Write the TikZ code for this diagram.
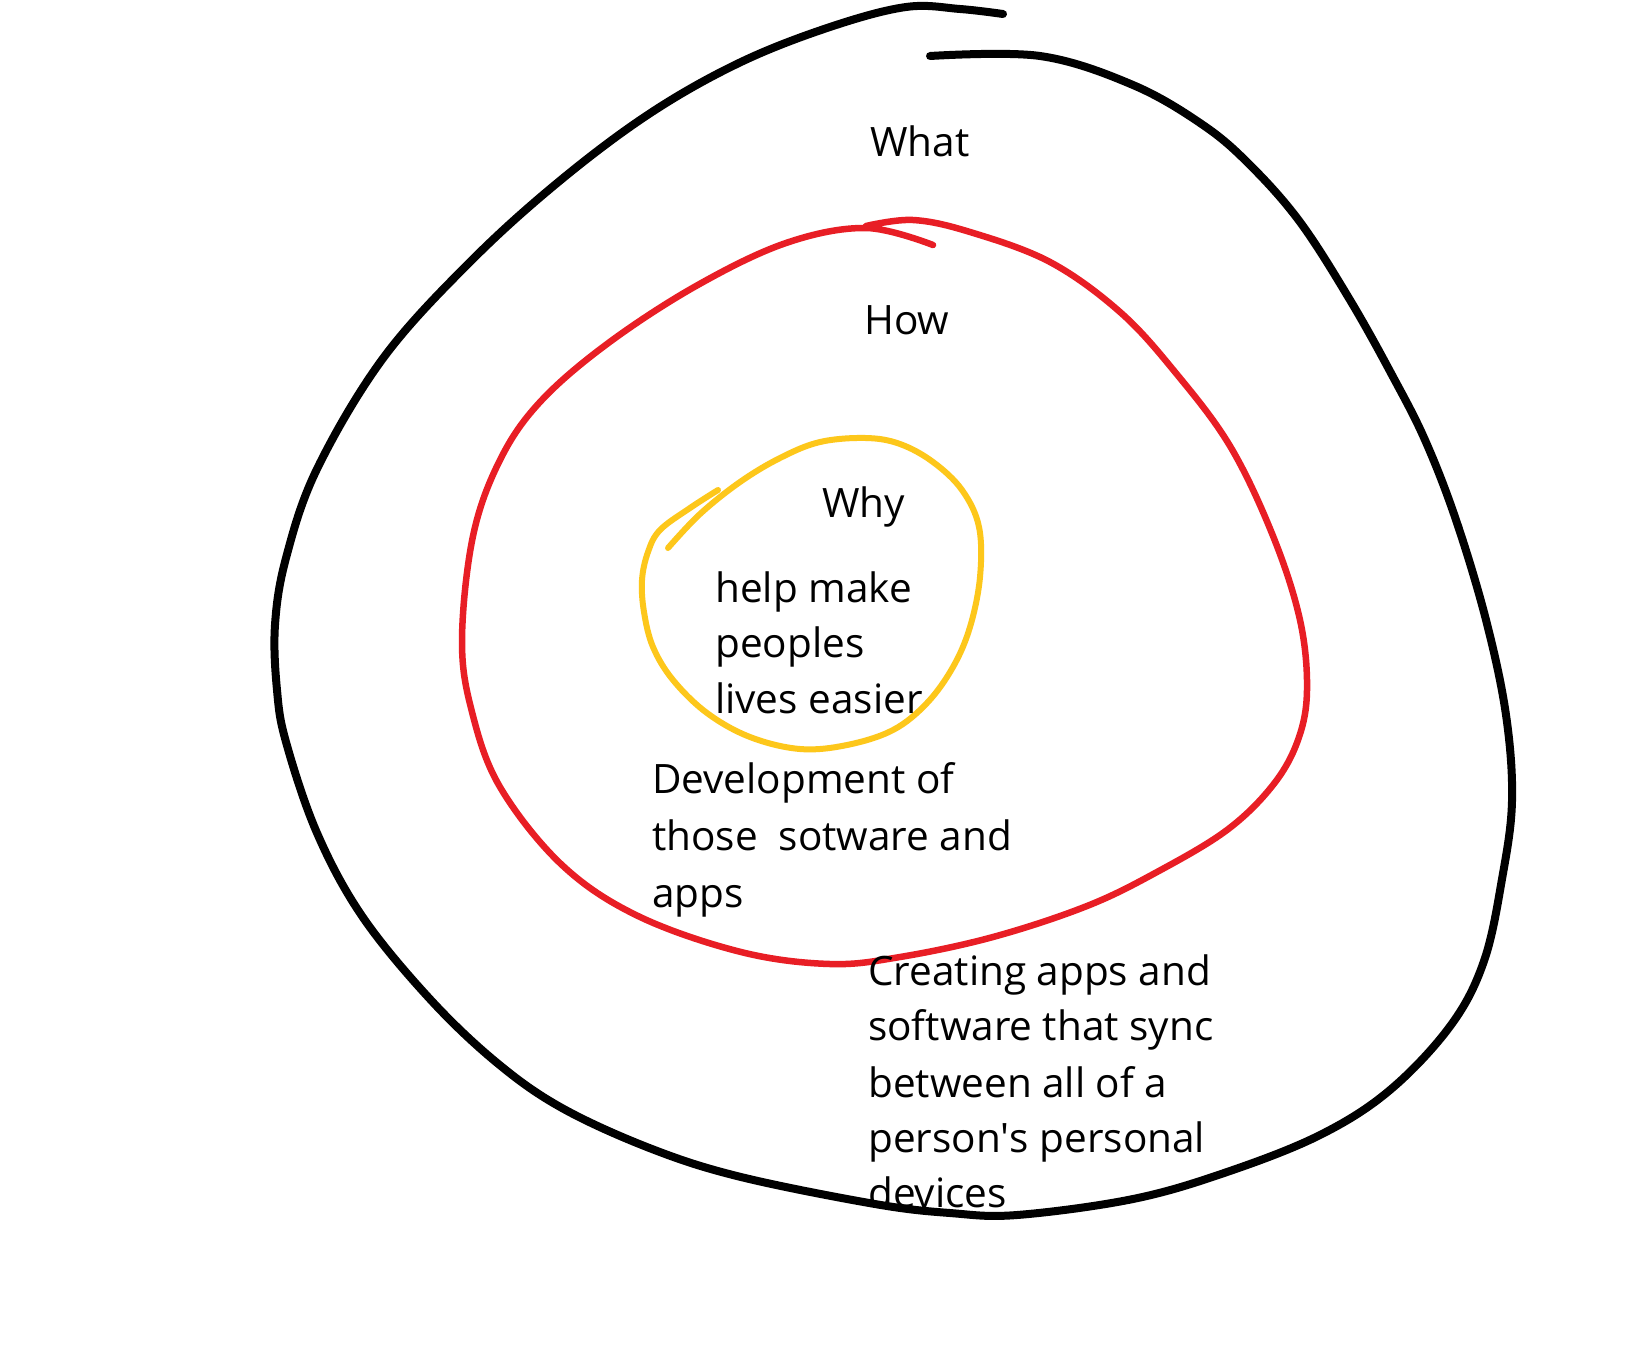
\documentclass[tikz,border=0pt]{standalone}
\usepackage{fontspec}
\setmainfont{Open Sans}
\definecolor{inkred}{HTML}{E81E25}
\definecolor{inkyellow}{HTML}{FDC71B}
\tikzset{
  pen/.style={line cap=round, line join=round},
  blackpen/.style={pen, draw=black, line width=8pt},
  redpen/.style={pen, draw=inkred, line width=6.5pt},
  yellowpen/.style={pen, draw=inkyellow, line width=6pt},
  lbl/.style={anchor=base west, inner sep=0pt, font=\fontsize{40.5}{57}\selectfont}
}
\begin{document}
\begin{tikzpicture}[x=1pt, y=-1pt]
\useasboundingbox (0,0) rectangle (1632,1368);
\fill[white] (0,0) rectangle (1632,1368);
% outer black loop
\draw[blackpen] plot[smooth, tension=0.6] coordinates {
 (1003,14) (960,9) (906,7) (830,27) (741,62) (652,112) (562,179) (473,259)
 (384,357) (317,469) (286,558) (275,625) (277,690) (286,742) (317,833)
 (362,916) (429,998) (496,1062) (562,1108) (652,1149) (741,1177) (875,1204)
 (950,1213) (1017,1215) (1133,1199) (1227,1172) (1320,1135) (1390,1090)
 (1451,1025) (1484,961) (1502,879) (1512,801) (1506,715) (1486,620)
 (1456,520) (1425,440) (1392,375) (1350,300) (1300,222) (1250,165)
 (1203,125) (1133,85) (1040,56) (930,56)};
% middle red loop
\draw[redpen] plot[smooth, tension=0.6] coordinates {
 (866,226) (913,220) (970,232) (1050,262) (1120,312) (1175,372) (1230,446)
 (1273,536) (1300,620) (1307,690) (1298,740) (1273,785) (1227,830)
 (1157,872) (1087,906) (993,937) (900,957) (830,964) (741,952) (638,916)
 (562,865) (500,787) (472,712) (462,640) (473,536) (500,460) (540,402)
 (607,344) (696,286) (786,243) (866,228) (933,245)};
% inner yellow loop
\draw[yellowpen] plot[smooth, tension=0.6] coordinates {
 (718,490) (690,508) (660,530) (648,552) (642,580) (644,612) (653,647)
 (673,680) (707,713) (750,737) (800,749) (847,745) (893,730) (927,703)
 (953,667) (970,627) (980,577) (979,527) (962,490) (933,462) (900,444)
 (866,438) (820,442) (780,458) (740,482) (700,514) (668,548)};
% labels
\node[lbl] (what) at (870,156) {What};
\node[lbl] (how) at (864,334) {How};
\node[lbl] (why) at (822,517) {Why};
\node[lbl] (why1) at (715,602) {help make};
\node[lbl] (why2) at (715,657) {peoples};
\node[lbl] (why3) at (715,713) {lives easier};
\node[lbl] (how1) at (652,793) {Development of};
\node[lbl] (how2) at (652,850) {those\ \ sotware and};
\node[lbl] (how3) at (652,907) {apps};
\node[lbl] (what1) at (868,985) {Creating apps and};
\node[lbl] (what2) at (868,1040) {software that sync};
\node[lbl] (what3) at (868,1097) {between all of a};
\node[lbl] (what4) at (868,1152) {person\textquotesingle s personal};
\node[lbl] (what5) at (868,1207) {devices};
\end{tikzpicture}
\end{document}
